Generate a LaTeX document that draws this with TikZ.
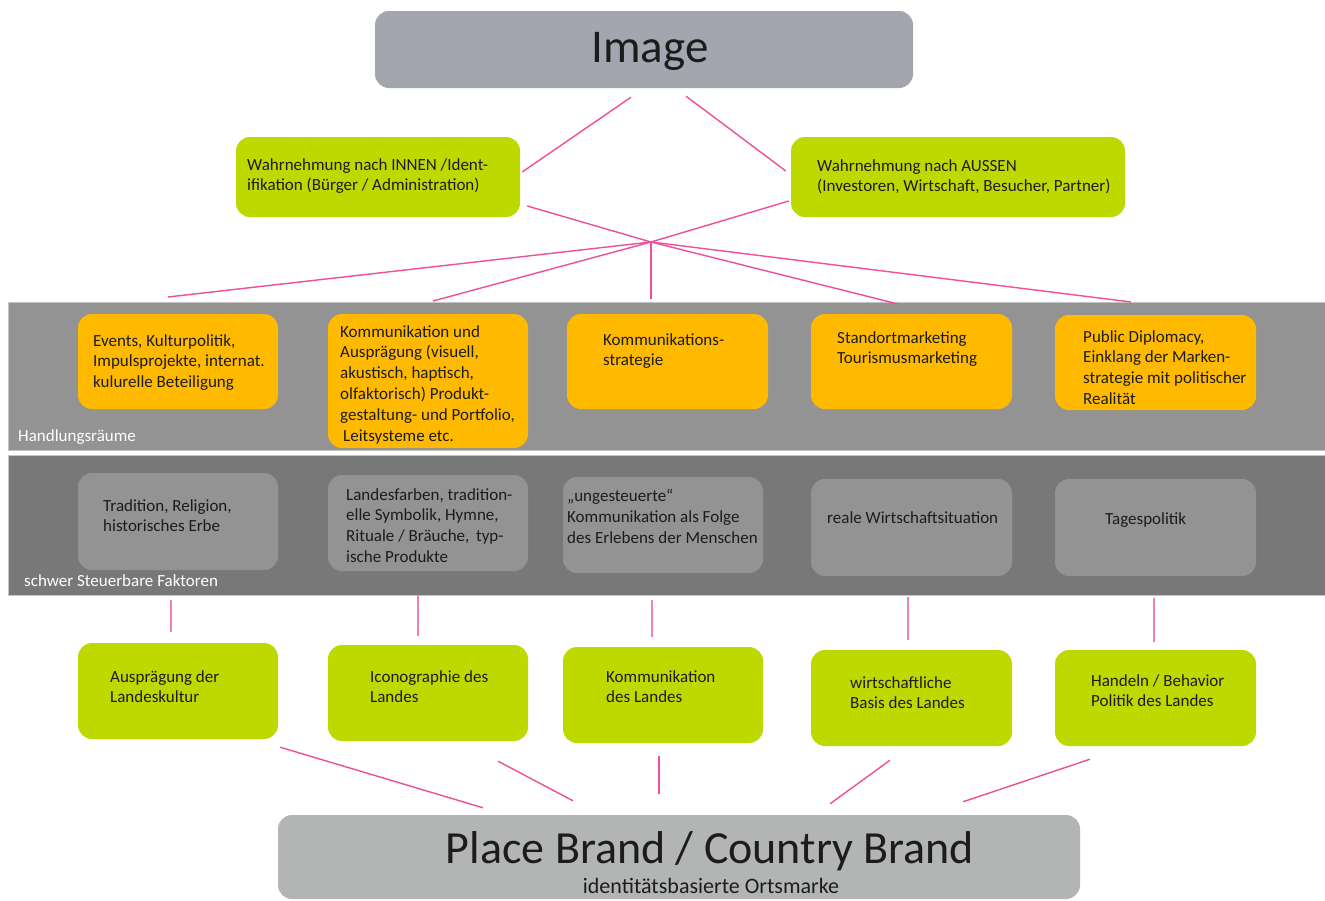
\documentclass[tikz,border=0pt]{standalone}
\usepackage{fontspec}
\setmainfont{Carlito}

\definecolor{ink}{HTML}{1C1C1C}
\definecolor{imggray}{HTML}{A4A6AF}
\definecolor{brandgray}{HTML}{B3B5B5}
\definecolor{lime}{HTML}{BED900}
\definecolor{amber}{HTML}{FFBA00}
\definecolor{bandlight}{HTML}{939393}
\definecolor{banddark}{HTML}{787878}
\definecolor{bandedge}{HTML}{C4C4C4}
\definecolor{linkpink}{HTML}{EE4F98}
\definecolor{stempink}{HTML}{F27FB5}

\newcommand{\bodyfont}{\fontsize{17}{20.8}\selectfont}
\newcommand{\titlefont}{\fontsize{47}{50}\selectfont}
\newcommand{\brandfont}{\fontsize{46}{50}\selectfont}
\newcommand{\subfont}{\fontsize{22}{25}\selectfont}

\begin{document}
\begin{tikzpicture}[x=1pt,y=-1pt,
  card/.style={rounded corners=14pt, inner sep=0pt, draw=none,
               minimum width=200pt, minimum height=96pt},
  greencard/.style={card, fill=lime},
  ambercard/.style={card, fill=amber},
  graycard/.style={card, fill=bandlight},
  txt/.style={anchor=north west, inner sep=0pt, align=left,
              font=\bodyfont, text=ink},
  bandlabel/.style={anchor=north west, inner sep=0pt,
                    font=\bodyfont, text=white},
  link/.style={draw=linkpink, line width=1.4pt},
  stem/.style={draw=stempink, line width=1.4pt}]

\useasboundingbox (0,0) rectangle (1325,900);
\fill[white] (0,0) rectangle (1325,900);

% --- top: image and the two perceptions ---
\node[card, fill=imggray, minimum width=538pt, minimum height=77pt] (img) at (644,49.5) {};
\node[anchor=base, inner sep=0pt, font=\titlefont, text=ink] (imgt) at (650,62) {Image};

\node[greencard, minimum width=284pt, minimum height=80pt] (lw) at (378,177) {};
\node[txt] (lwt) at (247,158) {Wahrnehmung nach INNEN /Ident-\\ifikation (Bürger / Administration)};

\node[greencard, minimum width=334pt, minimum height=80pt] (rw) at (958,177) {};
\node[txt] (rwt) at (817,159) {Wahrnehmung nach AUSSEN\\(Investoren, Wirtschaft, Besucher, Partner)};

% --- bands ---
\node[draw=bandedge, line width=0.8pt, fill=bandlight, minimum width=1317pt, minimum height=148pt, inner sep=0pt] (hr) at (666.5,376) {};
\node[draw=bandedge, line width=0.8pt, fill=banddark, minimum width=1317pt, minimum height=140pt, inner sep=0pt] (sf) at (666.5,525) {};
\node[bandlabel] (hrl) at (18,429) {Handlungsräume};
\node[bandlabel] (sfl) at (24,574) {schwer Steuerbare Faktoren};

% --- fields of action ---
\node[ambercard, minimum height=95pt] (o1) at (178,361.5) {};
\node[txt] (o1t) at (93,334) {Events, Kulturpolitik,\\Impulsprojekte, internat.\\kulurelle Beteiligung};
\node[ambercard, minimum height=134pt] (o2) at (428,381) {};
\node[txt] (o2t) at (340,325) {Kommunikation und\\Ausprägung (visuell,\\akustisch, haptisch,\\olfaktorisch) Produkt-\\gestaltung- und Portfolio,\\\hspace{3pt}Leitsysteme etc.};
\node[ambercard, minimum width=201pt, minimum height=95pt] (o3) at (667.5,361.5) {};
\node[txt] (o3t) at (603,333) {Kommunikations-\\strategie};
\node[ambercard, minimum width=201pt, minimum height=95pt] (o4) at (911.5,361.5) {};
\node[txt] (o4t) at (837,331) {Standortmarketing\\Tourismusmarketing};
\node[ambercard, minimum width=201pt, minimum height=95pt] (o5) at (1155.5,362.5) {};
\node[txt] (o5t) at (1083,330) {Public Diplomacy,\\Einklang der Marken-\\strategie mit politischer\\Realität};

% --- hard to steer factors ---
\node[graycard, minimum height=97pt] (g1) at (178,521.5) {};
\node[txt] (g1t) at (103,499) {Tradition, Religion,\\historisches Erbe};
\node[graycard] (g2) at (428,523) {};
\node[txt] (g2t) at (346,488) {Landesfarben, tradition-\\elle Symbolik, Hymne,\\Rituale / Bräuche,\, typ-\\ische Produkte};
\node[graycard] (g3) at (663,525) {};
\node[txt] (g3t) at (567,489) {„ungesteuerte“\\Kommunikation als Folge\\des Erlebens der Menschen};
\node[graycard, minimum width=201pt, minimum height=97pt] (g4) at (911.5,527.5) {};
\node[txt] (g4t) at (827,511) {reale Wirtschaftsituation};
\node[graycard, minimum width=201pt, minimum height=97pt] (g5) at (1155.5,527.5) {};
\node[txt] (g5t) at (1105,512) {Tagespolitik};

% --- pillars of the brand ---
\node[greencard] (b1) at (178,691) {};
\node[txt] (b1t) at (110,670) {Ausprägung der\\Landeskultur};
\node[greencard] (b2) at (428,693) {};
\node[txt] (b2t) at (370,670) {Iconographie des\\Landes};
\node[greencard] (b3) at (663,695) {};
\node[txt] (b3t) at (606,670) {Kommunikation\\des Landes};
\node[greencard, minimum width=201pt] (b4) at (911.5,698) {};
\node[txt] (b4t) at (850,676) {wirtschaftliche\\Basis des Landes};
\node[greencard, minimum width=201pt] (b5) at (1155.5,698) {};
\node[txt] (b5t) at (1091,674) {Handeln / Behavior\\Politik des Landes};

% --- brand ---
\node[card, fill=brandgray, minimum width=802pt, minimum height=84pt] (brand) at (679,857) {};
\node[anchor=base, inner sep=0pt, font=\brandfont, text=ink] (brandt) at (710,863) {Place Brand / Country Brand};
\node[anchor=base, inner sep=0pt, font=\subfont, text=ink] (brands) at (711,893) {identitätsbasierte Ortsmarke};

% --- connectors ---
\coordinate (hub) at (651,242);
\coordinate (e1) at (168,297);
\coordinate (e2) at (433,301);
\coordinate (e3) at (651,299);
\coordinate (e4) at (898,304);
\coordinate (e5) at (1131,302);

\draw[link] ([shift={(-13,9)}]img.south) -- ([shift={(2,-5)}]lw.east);
\draw[link] ([shift={(42,8)}]img.south) -- ([shift={(-5,-6)}]rw.west);
\draw[link] ([shift={(7,29)}]lw.east) -- (hub);
\draw[link] ([shift={(-2,24)}]rw.west) -- (hub);
\foreach \e in {e1,e2,e3,e4,e5} \draw[link] (hub) -- (\e);

\draw[stem] ([shift={(-7,30)}]g1.south) -- ([shift={(-7,-11)}]b1.north);
\draw[stem] ([shift={(-10,24)}]g2.south) -- ([shift={(-10,-9)}]b2.north);
\draw[stem] ([shift={(-11,27)}]g3.south) -- ([shift={(-11,-10)}]b3.north);
\draw[stem] ([shift={(-3.5,21)}]g4.south) -- ([shift={(-3.5,-10)}]b4.north);
\draw[stem] ([shift={(-1.5,22)}]g5.south) -- ([shift={(-1.5,-8)}]b5.north);

\draw[link] ([shift={(2,8)}]b1.south east) -- ([shift={(-196,-7)}]brand.north);
\draw[link] ([shift={(70,20)}]b2.south) -- ([shift={(-106,-14)}]brand.north);
\draw[link] ([shift={(-4,13)}]b3.south) -- ([shift={(-20,-21)}]brand.north);
\draw[link] ([shift={(-21.5,14)}]b4.south) -- ([shift={(151,-11)}]brand.north);
\draw[link] ([shift={(-65.5,13)}]b5.south) -- ([shift={(284,-13)}]brand.north);

\end{tikzpicture}
\end{document}
